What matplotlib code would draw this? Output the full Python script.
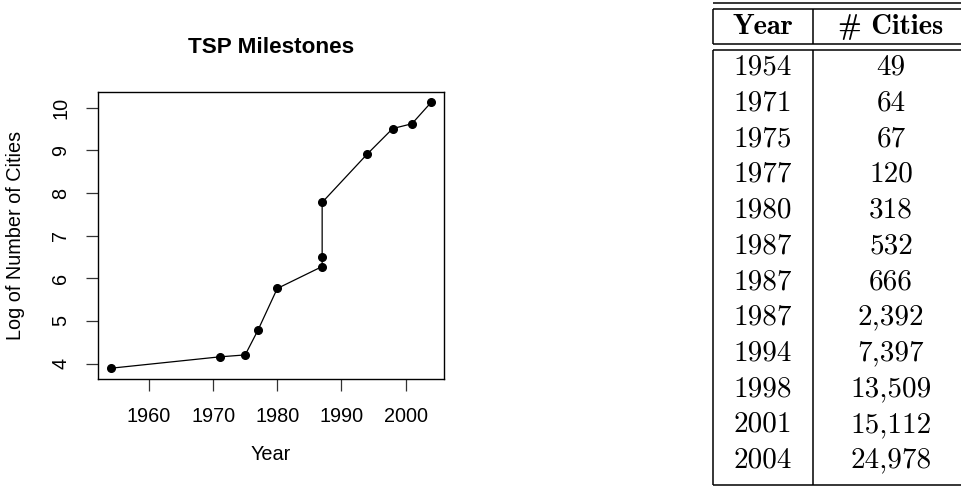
import numpy as np
import matplotlib
matplotlib.use("Agg")
import matplotlib.pyplot as plt

# TSP milestones: year solved and number of cities
years = [1954, 1971, 1975, 1977, 1980, 1987, 1987, 1987, 1994, 1998, 2001, 2004]
cities = [49, 64, 67, 120, 318, 532, 666, 2392, 7397, 13509, 15112, 24978]
x_ticks = [1960, 1970, 1980, 1990, 2000]
y_ticks = [4, 5, 6, 7, 8, 9, 10]
table_header = ["Year", "# Cities"]

W, H = 961, 486
fig = plt.figure(figsize=(W / 100, H / 100), dpi=100)
fig.patch.set_facecolor("white")

sans = "Liberation Sans"
fs = 14.3

# --- left: R style line plot ---
ax = fig.add_axes([97.7 / W, 1 - 379 / H, (444 - 97.7) / W, (379 - 91.7) / H])
ax.plot(years, np.log(cities), "-o", color="black", lw=0.9, ms=5.5)
ax.set_xlim(1952, 2006)
ax.set_ylim(3.64, 10.375)
ax.set_xticks(x_ticks)
ax.set_yticks(y_ticks)
ax.set_xticklabels([str(t) for t in x_ticks], fontsize=fs, family=sans)
ax.set_yticklabels([str(t) for t in y_ticks], fontsize=fs, family=sans,
                   rotation=90, va="center")
ax.tick_params(length=8.8, width=0.9, pad=11, color="#333333")
for s in ax.spines.values():
    s.set_linewidth(1.0)
ax.set_title("TSP Milestones", fontsize=16.2, fontweight="bold", family=sans, pad=28)
ax.set_xlabel("Year", fontsize=fs, family=sans)
ax.set_ylabel("Log of Number of Cities", fontsize=fs, family=sans)
ax.xaxis.set_label_coords(0.5, -0.23)
ax.yaxis.set_label_coords(-0.21, 0.5)

# --- right: LaTeX style table ---
tab = fig.add_axes([0, 0, 1, 1])
tab.set_xlim(0, W)
tab.set_ylim(H, 0)
tab.axis("off")

x_left, x_mid, x_right = 712.5, 813, 975
col_x = [762.5, 891]
row0, row_step = 67.7, 35.7
lw = 1.1
tfs = 21

def hline(y):
    tab.plot([x_left, x_right], [y, y], color="black", lw=lw, clip_on=False,
             solid_capstyle="butt")

hline(3.5)
hline(9.3)
hline(44.5)
hline(50.5)
hline(484.5)
for xv in (x_left, x_mid):
    tab.plot([xv, xv], [9.3, 44.5], color="black", lw=lw, solid_capstyle="butt")
    tab.plot([xv, xv], [50.5, 484.5], color="black", lw=lw, solid_capstyle="butt")

for cx, h in zip(col_x, table_header):
    tab.text(cx, 26.5, h, family="cmb10", fontsize=20.5, ha="center", va="center")

for i, (yr, c) in enumerate(zip(years, cities)):
    y = row0 + i * row_step
    tab.text(col_x[0], y, str(yr), family="cmr10", fontsize=tfs,
             ha="center", va="center")
    tab.text(col_x[1], y, f"{c:,}", family="cmr10", fontsize=tfs,
             ha="center", va="center")

fig.savefig("out.png", dpi=100)
